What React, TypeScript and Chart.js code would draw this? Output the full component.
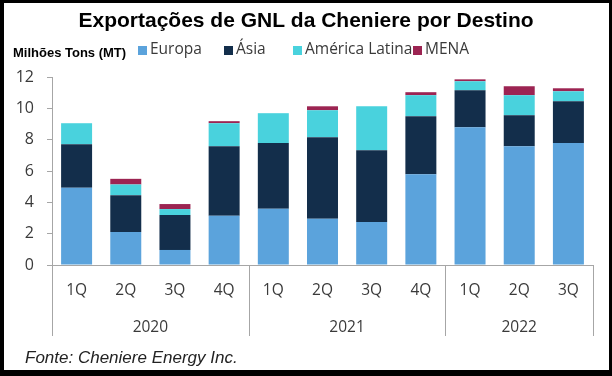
import React, { useEffect, useRef } from "react";
import { Chart, registerables } from "chart.js";

Chart.register(...registerables);

const quarters = ["1Q", "2Q", "3Q", "4Q", "1Q", "2Q", "3Q", "4Q", "1Q", "2Q", "3Q"];
const years = ["2020", "2021", "2022"];
const quartersPerYear = [4, 4, 3];

const europa = [4.93, 2.1, 0.96, 3.15, 3.59, 2.95, 2.74, 5.8, 8.8, 7.58, 7.78];
const asia = [2.78, 2.36, 2.23, 4.43, 4.19, 5.21, 4.59, 3.7, 2.35, 1.98, 2.67];
const americaLatina = [1.34, 0.68, 0.38, 1.47, 1.91, 1.72, 2.8, 1.34, 0.58, 1.28, 0.64];
const mena = [0, 0.36, 0.32, 0.13, 0, 0.25, 0, 0.19, 0.12, 0.57, 0.19];

const seriesNames = ["Europa", "Ásia", "América Latina", "MENA"];
const seriesColors = ["#5BA3DC", "#132E4B", "#49D2DD", "#9C2452"];

const yTicks = [0, 2, 4, 6, 8, 10, 12];

const titleText = "Exportações de GNL da Cheniere por Destino";
const unitText = "Milhões Tons (MT)";
const sourceText = "Fonte: Cheniere Energy Inc.";

const W = 612;
const H = 376;
const SANS = "'Open Sans', sans-serif";
const ARIAL = "'Liberation Sans', Arial, sans-serif";
const AXIS_GRAY = "#A6A6A6";
const TEXT_GRAY = "#3A3A3A";
const TICK_SIZE = 15.5;

const legendBoxX = [138, 224, 293, 413];

const decorPlugin = {
  id: "decor",
  beforeDraw(chart: any) {
    const ctx = chart.ctx;
    ctx.save();
    ctx.fillStyle = "#000";
    ctx.fillRect(0, 0, W, H);
    ctx.fillStyle = "#fff";
    ctx.fillRect(4, 3, W - 4 - 3, H - 3 - 6);
    ctx.restore();
  },
  afterDraw(chart: any) {
    const ctx = chart.ctx;
    const xs = chart.scales.x;
    ctx.save();
    // title
    ctx.fillStyle = "#000";
    ctx.font = `bold 21px ${ARIAL}`;
    ctx.textAlign = "center";
    ctx.textBaseline = "alphabetic";
    ctx.fillText(titleText, 306, 27);
    // unit label
    ctx.font = `bold 13px ${ARIAL}`;
    ctx.textAlign = "left";
    ctx.fillText(unitText, 13, 57);
    // legend
    ctx.font = `${TICK_SIZE}px ${SANS}`;
    ctx.textBaseline = "middle";
    chart.data.datasets.forEach((ds: any, i: number) => {
      const bx = legendBoxX[i];
      ctx.fillStyle = ds.backgroundColor;
      ctx.fillRect(bx, 46, 9, 9);
      ctx.fillStyle = TEXT_GRAY;
      ctx.fillText(ds.label, bx + 12, 50);
    });
    // year group separators and labels
    const n = quarters.length;
    const step = n > 1 ? xs.getPixelForValue(1) - xs.getPixelForValue(0) : xs.width;
    const top = xs.top;
    ctx.strokeStyle = AXIS_GRAY;
    ctx.lineWidth = 1;
    let idx = 0;
    const bounds: number[] = [xs.getPixelForValue(0) - step / 2];
    quartersPerYear.forEach((q) => {
      idx += q;
      bounds.push(xs.getPixelForValue(idx - 1) + step / 2);
    });
    bounds.forEach((b) => {
      const x = Math.round(b) + 0.5;
      ctx.beginPath();
      ctx.moveTo(x, top);
      ctx.lineTo(x, 336);
      ctx.stroke();
    });
    ctx.fillStyle = TEXT_GRAY;
    ctx.font = `${TICK_SIZE}px ${SANS}`;
    ctx.textAlign = "center";
    ctx.textBaseline = "alphabetic";
    years.forEach((y, i) => {
      ctx.fillText(y, (bounds[i] + bounds[i + 1]) / 2, 332);
    });
    // source
    ctx.fillStyle = "#222";
    ctx.font = `italic 17px ${ARIAL}`;
    ctx.textAlign = "left";
    ctx.fillText(sourceText, 25, 363);
    ctx.restore();
  },
};

export default function App() {
  const ref = useRef<HTMLCanvasElement | null>(null);
  useEffect(() => {
    if (!ref.current) return;
    const values = [europa, asia, americaLatina, mena];
    const chart = new Chart(ref.current, {
      type: "bar",
      data: {
        labels: quarters,
        datasets: values.map((v, i) => ({
          label: seriesNames[i],
          data: v,
          backgroundColor: seriesColors[i],
          borderWidth: 0,
          barPercentage: 0.63,
          categoryPercentage: 1,
        })),
      },
      options: {
        animation: false,
        responsive: false,
        devicePixelRatio: 1,
        layout: { padding: { left: 0, right: 19, top: 77, bottom: 0 } },
        plugins: {
          legend: { display: false },
          title: { display: false },
          tooltip: { enabled: false },
        },
        scales: {
          x: {
            stacked: true,
            grid: { display: false, drawTicks: false },
            border: { display: true, color: AXIS_GRAY, width: 1 },
            ticks: {
              color: TEXT_GRAY,
              font: { family: SANS, size: TICK_SIZE },
              padding: 16,
              maxRotation: 0,
              autoSkip: false,
            },
            afterFit: (s: any) => {
              s.height = 111;
            },
          },
          y: {
            stacked: true,
            min: 0,
            max: 12,
            afterBuildTicks: (s: any) => {
              s.ticks = yTicks.map((v) => ({ value: v }));
            },
            grid: {
              drawOnChartArea: false,
              drawTicks: true,
              tickLength: 5,
              color: AXIS_GRAY,
            },
            border: { display: true, color: AXIS_GRAY, width: 1 },
            ticks: {
              color: TEXT_GRAY,
              font: { family: SANS, size: TICK_SIZE + 0.5 },
              padding: 13,
            },
            afterFit: (s: any) => {
              s.width = 52;
            },
          },
        },
      },
      plugins: [decorPlugin],
    });
    return () => chart.destroy();
  }, []);
  return (
    <div style={{ position: "fixed", left: 0, top: 0, width: W, height: H }}>
      <canvas ref={ref} width={W} height={H} style={{ display: "block" }} />
    </div>
  );
}
